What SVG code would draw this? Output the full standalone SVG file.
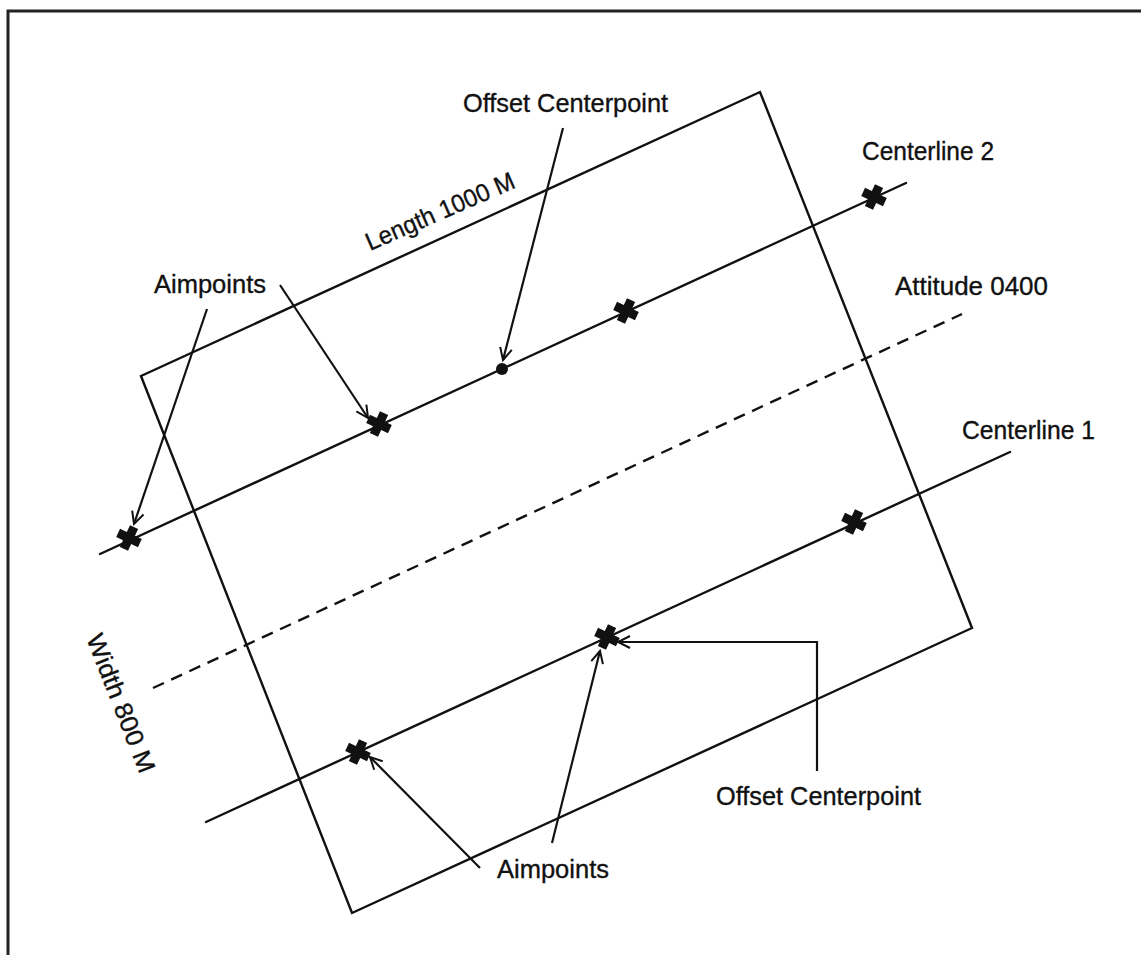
<svg xmlns="http://www.w3.org/2000/svg" width="1141" height="955" viewBox="0 0 1141 955">
<style>
.ln{fill:none;stroke:#111;stroke-width:2.4;stroke-linecap:round}
.dash{fill:none;stroke:#111;stroke-width:2.4;stroke-dasharray:12 8}
.ar{fill:none;stroke:#111;stroke-width:2.2;marker-end:url(#ah)}
.lbl{font-family:"Liberation Sans",Arial,sans-serif;font-size:25px;fill:#111;stroke:#111;stroke-width:0.35}
.mk{fill:#111}
</style>
<defs>
<marker id="ah" markerUnits="userSpaceOnUse" markerWidth="16" markerHeight="14" refX="13" refY="6" orient="auto" overflow="visible">
<path d="M1,0 L13,6 L1,12" fill="none" stroke="#111" stroke-width="2"/>
</marker>
<path id="star" d="M-4.5,-12 H4.5 V-4.5 H12 V4.5 H4.5 V12 H-4.5 V4.5 H-12 V-4.5 H-4.5 Z" transform="rotate(25)"/>
</defs>
<rect x="8" y="11" width="1160" height="970" fill="#fff" stroke="#222" stroke-width="3"/>

<g id="area">
<polygon class="ln" points="141,376 760,92 972,628 352,913"/>
</g>

<g id="connectors">
<line id="centerline2" class="ln" x1="100" y1="554" x2="906" y2="183"/>
<line id="centerline1" class="ln" x1="206" y1="822" x2="1010" y2="452"/>
<line id="attitude-line" class="dash" x1="153" y1="688" x2="962" y2="314"/>
<line class="ar" x1="563" y1="128" x2="503" y2="360"/>
<line class="ar" x1="207" y1="309" x2="134" y2="524"/>
<line class="ar" x1="280" y1="285" x2="368" y2="418"/>
<line class="ar" x1="480" y1="868" x2="370" y2="757"/>
<line class="ar" x1="552" y1="843" x2="600" y2="651"/>
<polyline class="ar" points="817,771 817,642 618,642"/>
</g>

<g id="markers">
<use href="#star" class="mk" x="129" y="538"/>
<use href="#star" class="mk" x="379" y="424"/>
<use href="#star" class="mk" x="626" y="311"/>
<use href="#star" class="mk" x="874" y="197"/>
<use href="#star" class="mk" x="358" y="752"/>
<use href="#star" class="mk" x="607" y="637"/>
<use href="#star" class="mk" x="854" y="522"/>
<circle id="offset-dot-2" cx="502" cy="369" r="6" class="mk"/>
</g>

<g id="labels">
<text id="t-offset-top" class="lbl" x="463" y="112" textLength="205" lengthAdjust="spacingAndGlyphs">Offset Centerpoint</text>
<text id="t-aim-top" class="lbl" x="154" y="293" textLength="112" lengthAdjust="spacingAndGlyphs">Aimpoints</text>
<text id="t-cl2" class="lbl" x="862" y="160" textLength="132" lengthAdjust="spacingAndGlyphs">Centerline 2</text>
<text id="t-att" class="lbl" x="895" y="295" textLength="153" lengthAdjust="spacingAndGlyphs">Attitude 0400</text>
<text id="t-cl1" class="lbl" x="962" y="439" textLength="133" lengthAdjust="spacingAndGlyphs">Centerline 1</text>
<text id="t-offset-bot" class="lbl" x="716" y="805" textLength="205" lengthAdjust="spacingAndGlyphs">Offset Centerpoint</text>
<text id="t-aim-bot" class="lbl" x="497" y="878" textLength="112" lengthAdjust="spacingAndGlyphs">Aimpoints</text>
<text id="t-length" class="lbl" transform="translate(370,251) rotate(-23.5)" textLength="160" lengthAdjust="spacingAndGlyphs">Length 1000 M</text>
<text id="t-width" class="lbl" transform="translate(86,638) rotate(68.5)" textLength="147" lengthAdjust="spacingAndGlyphs">Width 800 M</text>
</g>
</svg>
